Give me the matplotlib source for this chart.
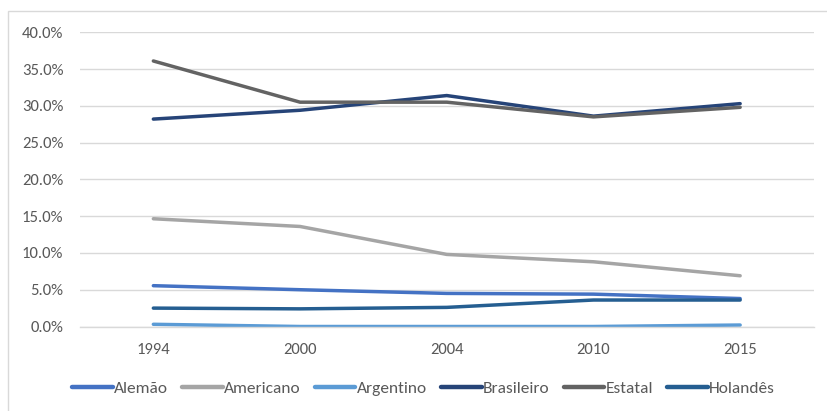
import matplotlib
matplotlib.use("Agg")
import matplotlib.pyplot as plt
from matplotlib import font_manager
from matplotlib.patches import Rectangle
from matplotlib.ticker import PercentFormatter

# Data
years = ["1994", "2000", "2004", "2010", "2015"]
alemao = [5.55, 5.0, 4.5, 4.4, 3.8]
americano = [14.65, 13.6, 9.8, 8.8, 6.9]
argentino = [0.3, 0.0, 0.0, 0.0, 0.2]
brasileiro = [28.2, 29.4, 31.4, 28.6, 30.3]
estatal = [36.1, 30.5, 30.5, 28.5, 29.8]
holandes = [2.5, 2.4, 2.6, 3.6, 3.6]

series_names = ["Alemão", "Americano", "Argentino", "Brasileiro", "Estatal", "Holandês"]
series_values = [alemao, americano, argentino, brasileiro, estatal, holandes]
series_colors = ["#4472C4", "#A5A5A5", "#5B9BD5", "#264478", "#636363", "#255E91"]

# Pick a narrow sans family if one is available
available = {f.name for f in font_manager.fontManager.ttflist}
family = "DejaVu Sans"
for cand in ["Carlito", "Liberation Sans Narrow", "Open Sans", "Liberation Sans"]:
    if cand in available:
        family = cand
        break
plt.rcParams["font.family"] = [family, "DejaVu Sans"]

W, H = 827, 411
fig = plt.figure(figsize=(W / 100, H / 100), dpi=100)

# Outer chart frame (only left and top edges fall inside the image)
fig.patches.append(Rectangle((7.5 / W, -0.2), 2.0, 1.2 - 11 / H,
                             transform=fig.transFigure, fill=False,
                             edgecolor="#D9D9D9", linewidth=1.0))

ax_left, ax_right = 80 / W, 813.5 / W
ax_bottom = (H - 326.5) / H
ax_top = (H - 32.3) / H
ax = fig.add_axes([ax_left, ax_bottom, ax_right - ax_left, ax_top - ax_bottom])

x = list(range(len(years)))
for name, vals, col in zip(series_names, series_values, series_colors):
    ax.plot(x, vals, color=col, linewidth=2.5, solid_capstyle="round",
            solid_joinstyle="round", label=name)

ax.set_xlim(-0.5, len(years) - 0.5)
ax.set_ylim(0, 40)
ax.set_yticks([0, 5, 10, 15, 20, 25, 30, 35, 40])
ax.yaxis.set_major_formatter(PercentFormatter(decimals=1))
ax.set_xticks(x)
ax.set_xticklabels(years)

ax.grid(axis="y", color="#D9D9D9", linewidth=1.0)
ax.set_axisbelow(True)
for s in ["top", "right", "left"]:
    ax.spines[s].set_visible(False)
ax.spines["bottom"].set_color("#D9D9D9")
ax.spines["bottom"].set_linewidth(1.0)
ax.tick_params(axis="both", length=0, colors="#595959", labelsize=12)
ax.tick_params(axis="y", pad=12)
ax.tick_params(axis="x", pad=12)

leg = fig.legend(loc="center", bbox_to_anchor=(423.5 / W, (H - 388) / H),
                 ncol=6, frameon=False, fontsize=12.5, handlelength=2.35,
                 handletextpad=0.08, columnspacing=0.8)
for t in leg.get_texts():
    t.set_color("#595959")
for line in leg.get_lines():
    line.set_linewidth(3.2)

fig.savefig("out.png", dpi=100)
